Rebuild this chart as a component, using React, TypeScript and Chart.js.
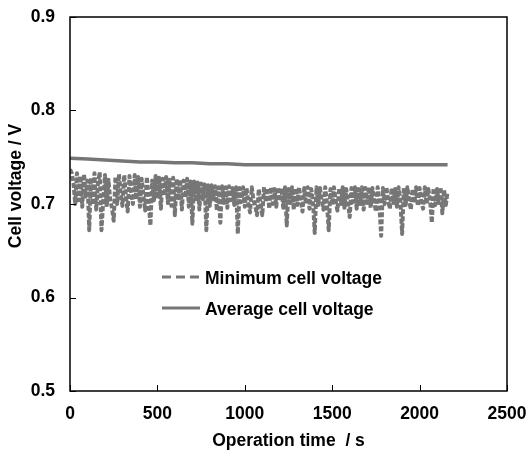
import React, { useEffect, useRef } from "react";
import { Chart, registerables } from "chart.js";

Chart.register(...registerables);

// Minimum cell voltage, sampled every 10 s starting at 0 s
const MIN_T0 = 0;
const MIN_DT = 10;
const MIN_VOLTAGE = [
  0.737, 0.733, 0.722, 0.700, 0.733, 0.704, 0.730, 0.697, 0.732, 0.708,
  0.725, 0.672, 0.728, 0.699, 0.733, 0.694, 0.722, 0.734, 0.672, 0.703,
  0.731, 0.697, 0.726, 0.704, 0.696, 0.682, 0.729, 0.700, 0.732, 0.712,
  0.698, 0.731, 0.708, 0.692, 0.730, 0.712, 0.700, 0.731, 0.705, 0.729,
  0.697, 0.727, 0.709, 0.693, 0.729, 0.703, 0.677, 0.725, 0.704, 0.730,
  0.706, 0.728, 0.695, 0.727, 0.709, 0.729, 0.701, 0.726, 0.698, 0.728,
  0.688, 0.727, 0.704, 0.726, 0.694, 0.725, 0.707, 0.727, 0.697, 0.724,
  0.679, 0.724, 0.703, 0.723, 0.694, 0.722, 0.705, 0.721, 0.672, 0.720,
  0.698, 0.720, 0.705, 0.719, 0.693, 0.718, 0.680, 0.719, 0.701, 0.718,
  0.696, 0.719, 0.704, 0.717, 0.699, 0.718, 0.668, 0.717, 0.702, 0.718,
  0.697, 0.717, 0.701, 0.691, 0.718, 0.704, 0.698, 0.688, 0.716, 0.700,
  0.688, 0.718, 0.702, 0.717, 0.695, 0.718, 0.700, 0.716, 0.697, 0.718,
  0.703, 0.717, 0.696, 0.718, 0.677, 0.716, 0.701, 0.718, 0.694, 0.717,
  0.699, 0.718, 0.704, 0.692, 0.717, 0.700, 0.718, 0.695, 0.716, 0.703,
  0.669, 0.718, 0.699, 0.717, 0.704, 0.694, 0.718, 0.701, 0.672, 0.716,
  0.699, 0.718, 0.703, 0.693, 0.717, 0.700, 0.718, 0.696, 0.716, 0.702,
  0.686, 0.717, 0.702, 0.718, 0.695, 0.716, 0.700, 0.718, 0.694, 0.717,
  0.701, 0.718, 0.696, 0.717, 0.703, 0.692, 0.718, 0.699, 0.666, 0.717,
  0.700, 0.718, 0.704, 0.695, 0.717, 0.701, 0.716, 0.697, 0.718, 0.703,
  0.668, 0.717, 0.699, 0.718, 0.704, 0.694, 0.716, 0.701, 0.718, 0.698,
  0.717, 0.702, 0.695, 0.718, 0.700, 0.716, 0.704, 0.680, 0.717, 0.699,
  0.716, 0.701, 0.718, 0.690, 0.715, 0.699, 0.713,
];

const AVG_TIME = [0, 100, 200, 300, 400, 500, 600, 700, 800, 900, 1000, 1100, 1200, 1300, 1400, 1500, 1600, 1700, 1800, 1900, 2000, 2100, 2160];
const AVG_VOLTAGE = [0.749, 0.748, 0.747, 0.746, 0.745, 0.745, 0.744, 0.744, 0.743, 0.743, 0.742, 0.742, 0.742, 0.742, 0.742, 0.742, 0.742, 0.742, 0.742, 0.742, 0.742, 0.742, 0.742];

const X_TICKS = [0, 500, 1000, 1500, 2000, 2500];
const Y_TICKS = [0.5, 0.6, 0.7, 0.8, 0.9];
const X_TITLE = "Operation time  / s";
const Y_TITLE = "Cell voltage / V";
const SERIES_NAMES = ["Minimum cell voltage", "Average cell voltage"];

const GRAY = "#767676";
const FONT = '"Liberation Sans", Arial, sans-serif';
const FS = 17.5;

export default function App() {
  const ref = useRef<HTMLCanvasElement | null>(null);

  useEffect(() => {
    if (!ref.current) return;
    const minData = MIN_VOLTAGE.map((v, i) => ({ x: MIN_T0 + i * MIN_DT, y: v }));
    const avgData = AVG_TIME.map((t, i) => ({ x: t, y: AVG_VOLTAGE[i] }));

    const framePlugin = {
      id: "frame",
      afterDraw(chart: any) {
        const { ctx, chartArea } = chart;
        const { left, top, right, bottom } = chartArea;
        const xs = chart.scales.x;
        const ys = chart.scales.y;
        ctx.save();
        ctx.strokeStyle = "#000";
        ctx.lineWidth = 1.5;
        ctx.strokeRect(left, top, right - left, bottom - top);
        ctx.lineWidth = 1;
        X_TICKS.forEach((v) => {
          const px = Math.round(xs.getPixelForValue(v)) + 0.5;
          ctx.beginPath();
          ctx.moveTo(px, bottom);
          ctx.lineTo(px, bottom - 6);
          ctx.stroke();
        });
        Y_TICKS.forEach((v) => {
          const py = Math.round(ys.getPixelForValue(v)) + 0.5;
          ctx.beginPath();
          ctx.moveTo(left, py);
          ctx.lineTo(left + 6, py);
          ctx.stroke();
        });

        // legend
        ctx.strokeStyle = GRAY;
        ctx.lineWidth = 3;
        ctx.setLineDash([9, 5]);
        ctx.beginPath();
        ctx.moveTo(162, 277);
        ctx.lineTo(200, 277);
        ctx.stroke();
        ctx.setLineDash([]);
        ctx.beginPath();
        ctx.moveTo(162, 308);
        ctx.lineTo(200, 308);
        ctx.stroke();
        ctx.fillStyle = "#000";
        ctx.font = `bold ${FS}px ${FONT}`;
        ctx.textAlign = "left";
        ctx.textBaseline = "middle";
        ctx.fillText(SERIES_NAMES[0], 205, 279);
        ctx.fillText(SERIES_NAMES[1], 205, 310);

        // axis titles
        ctx.textAlign = "center";
        ctx.fillText(X_TITLE, (left + right) / 2, 441);
        ctx.save();
        ctx.translate(16, 186);
        ctx.rotate(-Math.PI / 2);
        ctx.fillText(Y_TITLE, 0, 0);
        ctx.restore();
        ctx.restore();
      },
    };

    const chart = new Chart(ref.current, {
      type: "line",
      data: {
        datasets: [
          {
            label: SERIES_NAMES[0],
            data: minData,
            borderColor: GRAY,
            borderWidth: 4,
            borderDash: [5, 2],
            borderJoinStyle: "round",
            pointRadius: 0,
            tension: 0,
            fill: false,
          },
          {
            label: SERIES_NAMES[1],
            data: avgData,
            borderColor: GRAY,
            borderWidth: 3.5,
            pointRadius: 0,
            tension: 0,
            fill: false,
          },
        ],
      },
      options: {
        animation: false,
        responsive: true,
        maintainAspectRatio: false,
        layout: { padding: { left: 0, right: 22, top: 17, bottom: 0 } },
        plugins: { legend: { display: false }, tooltip: { enabled: false } },
        scales: {
          x: {
            type: "linear",
            min: 0,
            max: 2500,
            afterFit: (s: any) => {
              s.height = 59;
            },
            afterBuildTicks: (s: any) => {
              s.ticks = X_TICKS.map((v) => ({ value: v }));
            },
            grid: { display: true, drawOnChartArea: false, drawTicks: true, tickLength: 13, color: "rgba(0,0,0,0)" },
            border: { display: false },
            ticks: {
              padding: 0,
              color: "#000",
              font: { family: FONT, size: FS, weight: "bold" },
              maxRotation: 0,
              callback: (v: any) => String(v),
            },
          },
          y: {
            type: "linear",
            min: 0.5,
            max: 0.9,
            afterFit: (s: any) => {
              s.width = 70;
            },
            afterBuildTicks: (s: any) => {
              s.ticks = Y_TICKS.map((v) => ({ value: v }));
            },
            grid: { display: true, drawOnChartArea: false, drawTicks: true, tickLength: 15, color: "rgba(0,0,0,0)" },
            border: { display: false },
            ticks: {
              padding: 0,
              color: "#000",
              font: { family: FONT, size: FS, weight: "bold" },
              callback: (v: any) => Number(v).toFixed(1),
            },
          },
        },
      },
      plugins: [framePlugin],
    });
    return () => chart.destroy();
  }, []);

  return (
    <div style={{ position: "absolute", left: 0, top: 0, width: 529, height: 450, background: "#fff" }}>
      <canvas ref={ref} />
    </div>
  );
}
